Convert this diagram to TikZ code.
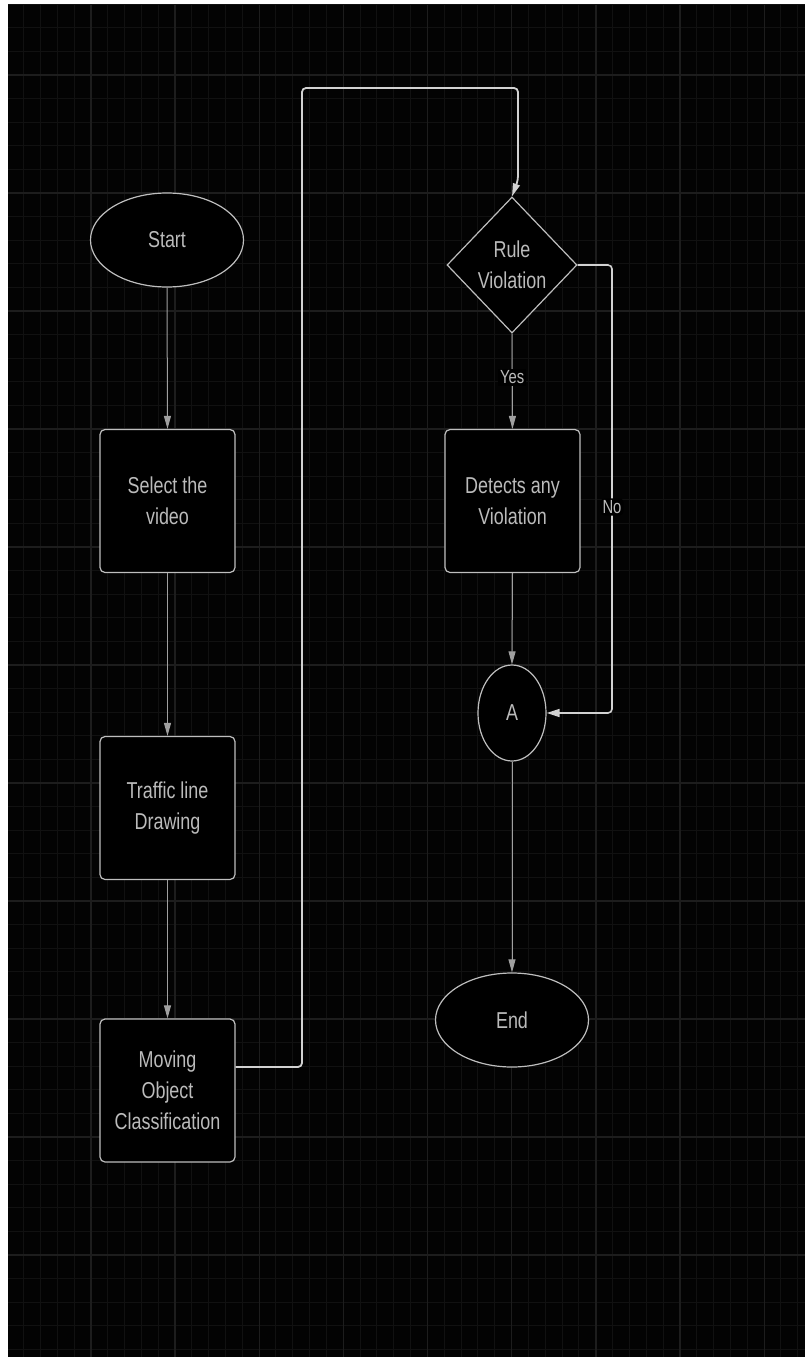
\documentclass[tikz,border=0pt]{standalone}
\usepackage{fontspec}
\usetikzlibrary{shapes.geometric,arrows.meta}
\newfontfamily\narfont[FakeStretch=0.78]{Liberation Sans}
\definecolor{bgc}{HTML}{030303}
\definecolor{minorc}{HTML}{111111}
\definecolor{majorc}{HTML}{1D1D1D}
\definecolor{edgec}{HTML}{BEBEBE}
\definecolor{txtc}{HTML}{BBBBBB}
\definecolor{linec}{HTML}{A0A0A0}
\definecolor{loopc}{HTML}{D2D2D2}
\tikzset{
  base/.style={draw=edgec, line width=1.2pt, fill=black, text=txtc,
    font=\narfont\fontsize{23}{31}\selectfont, align=center, inner sep=0pt},
  procbox/.style={base, rectangle, rounded corners=5pt, minimum width=135pt, minimum height=143pt},
  term/.style={base, ellipse, minimum width=153pt, minimum height=94pt},
  conn/.style={base, ellipse, minimum width=68pt, minimum height=96pt},
  decide/.style={base, diamond, minimum width=130pt, minimum height=136pt},
  flow/.style={draw=linec, line width=1pt, -{Triangle[length=13pt,width=7pt]}},
  loopflow/.style={draw=loopc, line width=1.8pt, rounded corners=4pt, -{Triangle[length=13pt,width=7pt]}},
  sideflow/.style={draw=loopc, line width=1.6pt, rounded corners=4pt, -{Triangle[length=13pt,width=8pt]}},
  lbl/.style={fill=black, text=txtc, font=\narfont\fontsize{19}{22}\selectfont, inner sep=2pt}
}
\begin{document}
\begin{tikzpicture}[x=1pt,y=-1pt]
\useasboundingbox (0,0) rectangle (805,1357);
\fill[white] (0,0) rectangle (805,1357);
\fill[bgc] (8,5) rectangle (805,1357);
% minor grid
\foreach \i in {0,...,47} {
  \pgfmathsetmacro{\gx}{6.7+16.83*\i}
  \ifdim \gx pt>8pt \draw[minorc, line width=1pt] (\gx,5) -- (\gx,1357); \fi
}
\foreach \j in {2,...,59} {
  \pgfmathsetmacro{\gy}{-43+23.6*\j}
  \draw[minorc, line width=1pt] (8,\gy) -- (805,\gy);
}
% major grid
\foreach \i in {1,...,9} {
  \pgfmathsetmacro{\gx}{6.7+84.17*\i}
  \draw[majorc, line width=1.3pt] (\gx,5) -- (\gx,1357);
}
\foreach \j in {1,...,11} {
  \pgfmathsetmacro{\gy}{-43+118*\j}
  \draw[majorc, line width=1.3pt] (8,\gy) -- (805,\gy);
}
% nodes
\node[term] (start) at (167,240) {Start};
\node[procbox] (sel) at (167.5,501) {Select the\\video};
\node[procbox] (traf) at (167.5,808) {Traffic line\\Drawing};
\node[procbox] (mov) at (167.5,1090.5) {Moving\\Object\\Classification};
\node[decide] (rv) at (512,265) {Rule\\Violation};
\node[procbox] (det) at (512.5,501) {Detects any\\Violation};
\node[conn] (A) at (512,713) {A};
\node[term] (end) at (512,1020) {End};
% connectors
\draw[flow] (start.south) -- (sel.north);
\draw[flow] (sel.south) -- (traf.north);
\draw[flow] (traf.south) -- (mov.north);
\coordinate (c1) at (302,88);
\coordinate (c2) at (518,88);
\coordinate (c3) at (518,180);
\draw[loopflow] (mov.east |- 0,1067) -| (c1) -- (c2) -- (c3) -- (rv.north);
\draw[flow] (rv.south) -- node[lbl, pos=0.46] (yes) {Yes} (det.north);
\coordinate (n1) at (612,265);
\coordinate (n2) at (612,713);
\draw[sideflow] (rv.east) -- (n1) -- node[lbl, pos=0.54] (no) {No} (n2) -- (A.east);
\draw[flow] (det.south) -- (A.north);
\draw[flow] (A.south) -- (end.north);
\end{tikzpicture}
\end{document}
